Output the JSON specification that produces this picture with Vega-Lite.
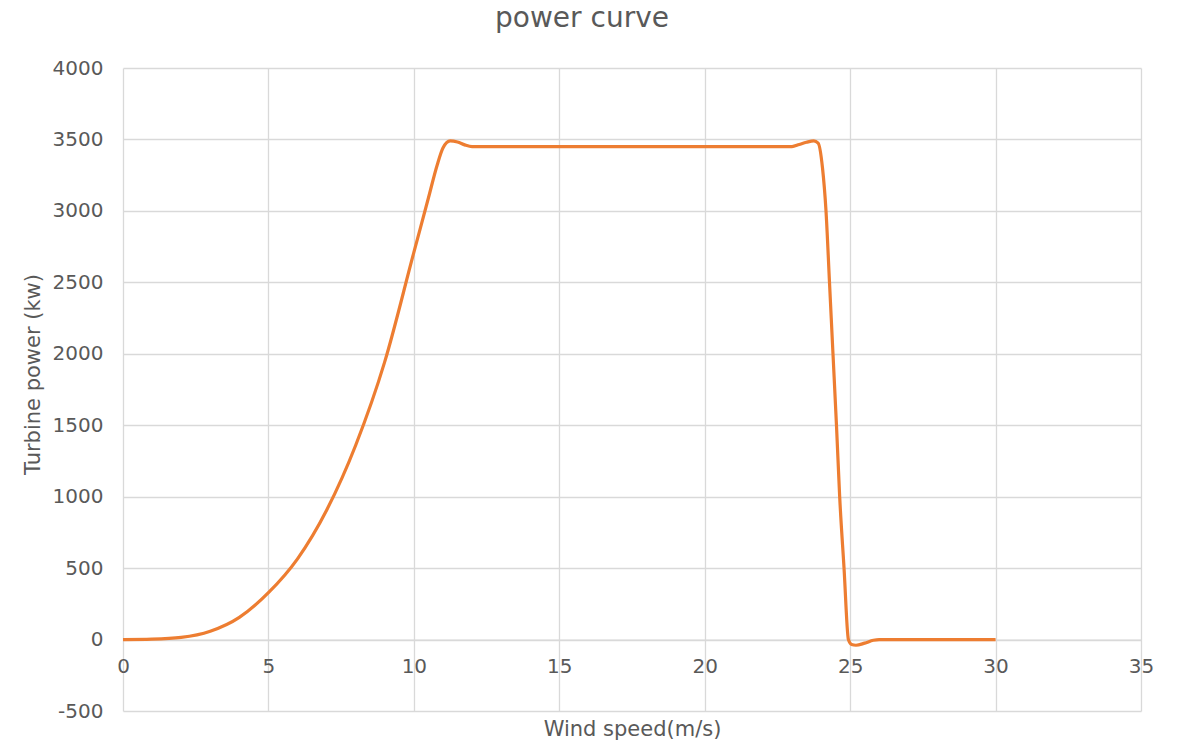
{
  "$schema": "https://vega.github.io/schema/vega-lite/v6.json",
  "width": 1018,
  "height": 643,
  "autosize": {"type": "none"},
  "padding": {"left": 123, "top": 68, "right": 39, "bottom": 34},
  "background": "white",
  "title": {
    "text": "power curve",
    "font": "DejaVu Sans",
    "fontSize": 28,
    "fontWeight": "normal",
    "color": "#595959",
    "anchor": "middle",
    "dx": -50,
    "dy": 27,
    "baseline": "alphabetic",
    "offset": 30
  },
  "config": {
    "view": {"stroke": null},
    "axis": {
      "labelFont": "DejaVu Sans",
      "titleFont": "DejaVu Sans",
      "labelColor": "#595959",
      "titleColor": "#595959",
      "labelFontSize": 20,
      "titleFontSize": 21,
      "titleFontWeight": "normal",
      "gridColor": "#d9d9d9",
      "gridWidth": 1.3,
      "ticks": false,
      "labelFlush": false
    }
  },
  "data": {
    "values": [
      {"wind": 0, "power": 0},
      {"wind": 1, "power": 3},
      {"wind": 2, "power": 15},
      {"wind": 3, "power": 58},
      {"wind": 4, "power": 155},
      {"wind": 5, "power": 328},
      {"wind": 6, "power": 565},
      {"wind": 7, "power": 905},
      {"wind": 8, "power": 1360},
      {"wind": 9, "power": 1945},
      {"wind": 10, "power": 2710},
      {"wind": 10.5, "power": 3090},
      {"wind": 10.8, "power": 3320},
      {"wind": 11, "power": 3440},
      {"wind": 11.25, "power": 3490},
      {"wind": 11.5, "power": 3482},
      {"wind": 11.75, "power": 3462},
      {"wind": 12, "power": 3450},
      {"wind": 13, "power": 3450},
      {"wind": 14, "power": 3450},
      {"wind": 15, "power": 3450},
      {"wind": 16, "power": 3450},
      {"wind": 17, "power": 3450},
      {"wind": 18, "power": 3450},
      {"wind": 19, "power": 3450},
      {"wind": 20, "power": 3450},
      {"wind": 21, "power": 3450},
      {"wind": 22, "power": 3450},
      {"wind": 23, "power": 3450},
      {"wind": 23.25, "power": 3465},
      {"wind": 23.5, "power": 3480},
      {"wind": 23.75, "power": 3490},
      {"wind": 23.9, "power": 3475},
      {"wind": 24.05, "power": 3300},
      {"wind": 24.17, "power": 3000},
      {"wind": 24.29, "power": 2500},
      {"wind": 24.41, "power": 2000},
      {"wind": 24.53, "power": 1500},
      {"wind": 24.64, "power": 1000},
      {"wind": 24.79, "power": 500},
      {"wind": 24.94, "power": 0},
      {"wind": 25.05, "power": -35},
      {"wind": 25.2, "power": -40},
      {"wind": 25.5, "power": -25},
      {"wind": 25.8, "power": -5},
      {"wind": 26, "power": 0},
      {"wind": 27, "power": 0},
      {"wind": 28, "power": 0},
      {"wind": 29, "power": 0},
      {"wind": 30, "power": 0}
    ]
  },
  "mark": {"type": "line", "color": "#ED7D31", "strokeWidth": 3.2, "interpolate": "monotone"},
  "encoding": {
    "x": {
      "field": "wind",
      "type": "quantitative",
      "scale": {"domain": [0, 35], "nice": false, "zero": false},
      "axis": {
        "title": "Wind speed(m/s)",
        "values": [0, 5, 10, 15, 20, 25, 30, 35],
        "offset": -71.44,
        "domainColor": "#d9d9d9",
        "domainWidth": 1.3,
        "labelPadding": 17,
        "titleY": 90,
        "titleBaseline": "middle"
      }
    },
    "y": {
      "field": "power",
      "type": "quantitative",
      "scale": {"domain": [-500, 4000], "nice": false, "zero": false},
      "axis": {
        "title": "Turbine power (kw)",
        "values": [-500, 0, 500, 1000, 1500, 2000, 2500, 3000, 3500, 4000],
        "labelExpr": "'' + datum.value",
        "domain": false,
        "labelPadding": 20,
        "titleX": -90,
        "titleY": 306,
        "titleBaseline": "middle",
        "titleAngle": -90
      }
    }
  }
}
